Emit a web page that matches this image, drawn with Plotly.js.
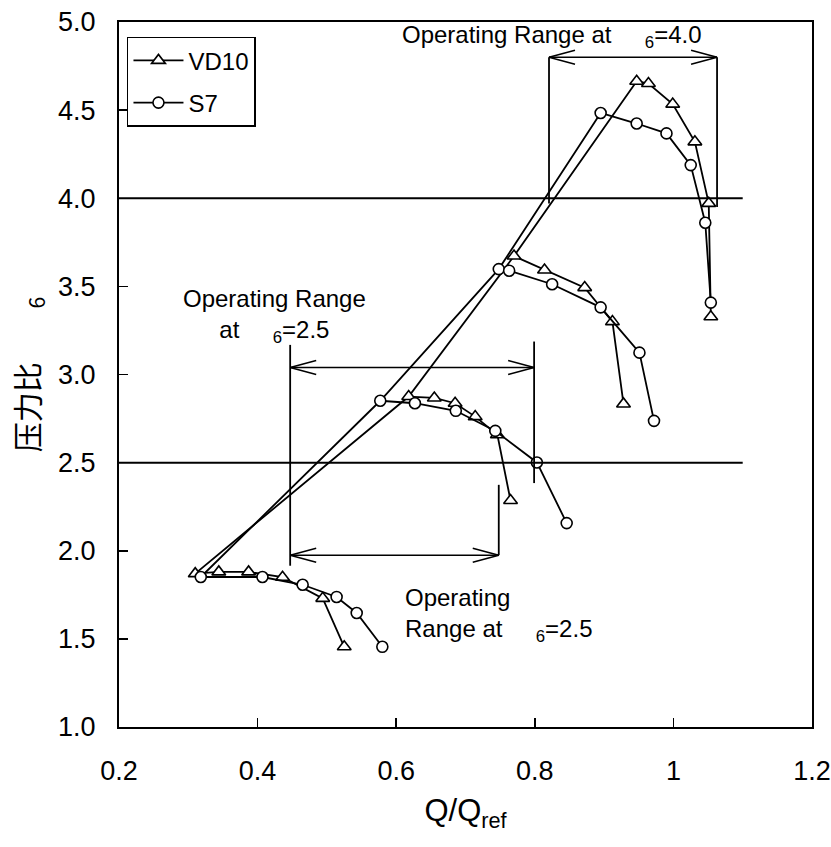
<!DOCTYPE html>
<html><head><meta charset="utf-8">
<script src="https://cdn.plot.ly/plotly-3.0.1.min.js"></script>
<style>body{margin:0;background:#fff}</style>
</head><body><div id="chart" style="width:831px;height:847px"></div>
<script>
// ---- data: VD10 speed lines (Q/Qref, pressure ratio) ----
const vd10Speed1X = [0.310, 0.344, 0.387, 0.436, 0.494, 0.525];
const vd10Speed1Y = [1.870, 1.880, 1.880, 1.850, 1.730, 1.455];
const vd10Speed2X = [0.618, 0.655, 0.685, 0.714, 0.746, 0.765];
const vd10Speed2Y = [2.875, 2.867, 2.837, 2.761, 2.658, 2.285];
const vd10Speed3X = [0.770, 0.814, 0.872, 0.912, 0.928];
const vd10Speed3Y = [3.672, 3.593, 3.493, 3.300, 2.833];
const vd10Speed4X = [0.947, 0.964, 0.999, 1.031, 1.051, 1.054];
const vd10Speed4Y = [4.664, 4.651, 4.534, 4.320, 3.971, 3.328];
// ---- data: S7 speed lines ----
const s7Speed1X = [0.318, 0.407, 0.465, 0.514, 0.543, 0.580];
const s7Speed1Y = [1.851, 1.851, 1.807, 1.738, 1.647, 1.455];
const s7Speed2X = [0.577, 0.627, 0.686, 0.743, 0.803, 0.846];
const s7Speed2Y = [2.851, 2.837, 2.794, 2.680, 2.501, 2.157];
const s7Speed3X = [0.748, 0.763, 0.825, 0.895, 0.951, 0.972];
const s7Speed3Y = [3.598, 3.589, 3.512, 3.381, 3.124, 2.737];
const s7Speed4X = [0.895, 0.947, 0.990, 1.025, 1.046, 1.054];
const s7Speed4Y = [4.484, 4.424, 4.368, 4.188, 3.861, 3.408];

// ---- ticks ----
const xTickVals = [0.2, 0.4, 0.6, 0.8, 1.0, 1.2];
const xTickText = ['0.2', '0.4', '0.6', '0.8', '1', '1.2'];
const yTickVals = [1.0, 1.5, 2.0, 2.5, 3.0, 3.5, 4.0, 4.5, 5.0];
const yTickText = ['1.0', '1.5', '2.0', '2.5', '3.0', '3.5', '4.0', '4.5', '5.0'];

// ---- reference pressure ratio levels and operating ranges ----
const refLevels = [4.0, 2.5];
const refLineX = [0.2, 1.1];
const rangeLeftX = [0.8205, 0.447, 0.447];
const rangeRightX = [1.063, 0.799, 0.748];
const rangeArrowY = [4.80, 3.04, 1.975];
const rangeLabels = [
  'Operating Range at\u00a0\u00a0\u00a0\u00a0\u00a0<sub>6</sub>=4.0',
  'Operating Range<br>at\u00a0\u00a0\u00a0\u00a0\u00a0<sub>6</sub>=2.5',
  'Operating<br>Range at\u00a0\u00a0\u00a0\u00a0\u00a0<sub>6</sub>=2.5'
];

const vd10Lines = [[vd10Speed1X, vd10Speed1Y], [vd10Speed2X, vd10Speed2Y], [vd10Speed3X, vd10Speed3Y], [vd10Speed4X, vd10Speed4Y]];
const s7Lines = [[s7Speed1X, s7Speed1Y], [s7Speed2X, s7Speed2Y], [s7Speed3X, s7Speed3Y], [s7Speed4X, s7Speed4Y]];

const LW = 1.8;
const traces = [];
function surge(lines) {
  return {x: lines.map(l => l[0][0]), y: lines.map(l => l[1][0]), mode: 'lines',
    line: {color: '#000', width: LW}, showlegend: false, hoverinfo: 'skip'};
}
traces.push(surge(vd10Lines));
traces.push(surge(s7Lines));
function speedTraces(lines, name, symbol, size) {
  lines.forEach((l, i) => {
    traces.push({x: l[0], y: l[1], mode: 'lines+markers', name: name, legendgroup: name,
      showlegend: i === 0,
      line: {color: '#000', width: LW},
      marker: {symbol: symbol, size: size, color: '#fff', line: {color: '#000', width: 1.6}}});
  });
}
speedTraces(vd10Lines, 'VD10', 'triangle-up', 12);
speedTraces(s7Lines, 'S7', 'circle', 11);

const shapes = [];
refLevels.forEach(v => shapes.push({type: 'line', xref: 'x', yref: 'y', x0: refLineX[0], x1: refLineX[1], y0: v, y1: v,
  line: {color: '#000', width: 2}}));
function seg(x0, y0, x1, y1, w) {
  return {type: 'line', xref: 'x', yref: 'y', x0: x0, x1: x1, y0: y0, y1: y1, line: {color: '#000', width: w}};
}
function head(xTip, y, dir, sign) {
  return {type: 'line', xref: 'x', yref: 'y', xsizemode: 'pixel', ysizemode: 'pixel',
    xanchor: xTip, yanchor: y, x0: 0, x1: dir * 26, y0: 0, y1: sign * 7, line: {color: '#000', width: 1.5}};
}
for (let i = 0; i < 3; i++) {
  const xl = rangeLeftX[i], xr = rangeRightX[i], y = rangeArrowY[i];
  shapes.push(seg(xl, y, xr, y, 1.5));
  shapes.push(head(xl, y, 1, 1), head(xl, y, 1, -1), head(xr, y, -1, 1), head(xr, y, -1, -1));
}
// vertical boundary lines of the operating ranges
shapes.push(seg(rangeLeftX[0], rangeArrowY[0], rangeLeftX[0], 3.97, 1.8));
shapes.push(seg(rangeRightX[0], rangeArrowY[0], rangeRightX[0], 3.95, 1.8));
shapes.push(seg(rangeLeftX[1], 3.168, rangeLeftX[1], 1.915, 1.8));
shapes.push(seg(rangeRightX[1], 3.187, rangeRightX[1], 2.384, 1.8));
shapes.push(seg(rangeRightX[2], 2.374, rangeRightX[2], rangeArrowY[2], 1.8));

const annFont = {family: 'Liberation Sans, Arial, sans-serif', size: 24, color: '#000'};
const annotations = [
  {x: 0.6055, y: 4.915, xref: 'x', yref: 'y', text: rangeLabels[0], showarrow: false, xanchor: 'left', yanchor: 'middle', font: annFont, align: 'left'},
  {x: 0.4237, y: 3.333, xref: 'x', yref: 'y', text: rangeLabels[1], showarrow: false, xanchor: 'center', yanchor: 'middle', font: annFont, align: 'center'},
  {x: 0.6098, y: 1.633, xref: 'x', yref: 'y', text: rangeLabels[2], showarrow: false, xanchor: 'left', yanchor: 'middle', font: annFont, align: 'left'}
];

const tickFont = {family: 'Liberation Sans, Arial, sans-serif', size: 27, color: '#000'};
const layout = {
  width: 831, height: 847,
  margin: {l: 119, r: 19, t: 22, b: 120, pad: 0},
  paper_bgcolor: '#fff', plot_bgcolor: '#fff',
  font: {family: 'Liberation Sans, Arial, sans-serif', color: '#000'},
  xaxis: {range: [0.2, 1.2], tickmode: 'array', tickvals: xTickVals, ticktext: xTickText,
    showline: true, mirror: true, linecolor: '#000', linewidth: 2, showgrid: false, zeroline: false,
    ticks: 'inside', ticklen: 9, tickwidth: 1.5, tickcolor: '#000', tickfont: tickFont, ticklabelstandoff: 19,
    title: {text: 'Q/Q<sub>ref</sub>', font: {family: 'Liberation Sans, Arial, sans-serif', size: 31, color: '#000'}, standoff: 14}},
  yaxis: {range: [1.0, 5.0], tickmode: 'array', tickvals: yTickVals, ticktext: yTickText,
    showline: true, mirror: true, linecolor: '#000', linewidth: 2, showgrid: false, zeroline: false,
    ticks: 'inside', ticklen: 9, tickwidth: 1.5, tickcolor: '#000', tickfont: tickFont, ticklabelstandoff: 16,
    title: {text: '压力比\u00a0\u00a0\u00a0\u00a0\u00a0\u00a0\u00a0\u00a0<sub>6</sub>', font: {family: 'Noto Sans CJK SC, sans-serif', size: 30, color: '#000'}, standoff: 10}},
  showlegend: true,
  legend: {x: 0.0115, y: 0.979, xanchor: 'left', yanchor: 'top', bgcolor: '#fff', bordercolor: '#000', borderwidth: 1.5,
    font: {family: 'Liberation Sans, Arial, sans-serif', size: 24, color: '#000'}, traceorder: 'grouped', tracegroupgap: 8,
    itemwidth: 50},
  shapes: shapes,
  annotations: annotations
};
Plotly.newPlot('chart', traces, layout, {displayModeBar: false, staticPlot: true});
</script></body></html>
